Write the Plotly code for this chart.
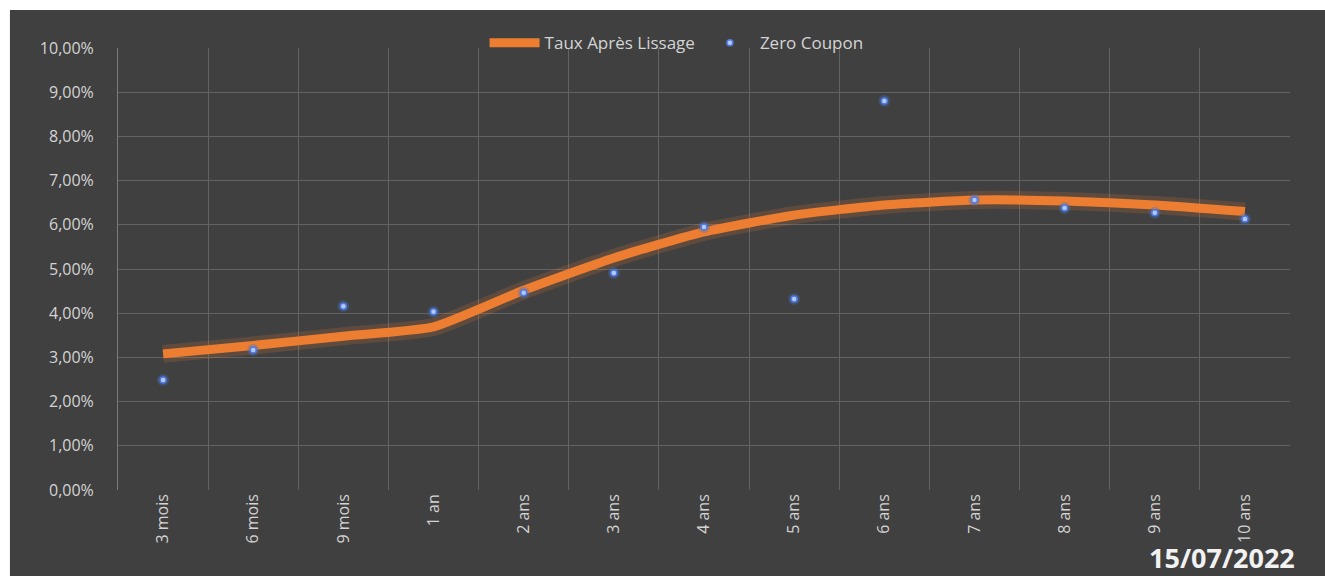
import plotly.graph_objects as go

categories = ["3 mois", "6 mois", "9 mois", "1 an", "2 ans", "3 ans", "4 ans",
              "5 ans", "6 ans", "7 ans", "8 ans", "9 ans", "10 ans"]
taux_lissage = [0.0308, 0.0327, 0.0348, 0.0369, 0.0452, 0.0525, 0.0584,
                0.0622, 0.0645, 0.0656, 0.0654, 0.0645, 0.0630]
zero_coupon = [0.0249, 0.0317, 0.0416, 0.0403, 0.0446, 0.0491, 0.0595,
               0.0432, 0.0880, 0.0656, 0.0638, 0.0627, 0.0613]
y_ticks = [i / 100 for i in range(0, 11)]
date_label = "15/07/2022"

BG = "#404040"
TXT = "#d4d4d4"
GRID = "#636363"

fig = go.Figure()

# glow under the smoothed line
fig.add_trace(go.Scatter(
    x=categories, y=taux_lissage, mode="lines",
    line=dict(color="rgba(237,125,49,0.18)", width=18, shape="spline", smoothing=0.5),
    showlegend=False, hoverinfo="skip"))
fig.add_trace(go.Scatter(
    x=categories, y=taux_lissage, mode="lines", name="Taux Après Lissage",
    line=dict(color="#ED7D31", width=9, shape="spline", smoothing=0.5)))
# glow under the points
fig.add_trace(go.Scatter(
    x=categories, y=zero_coupon, mode="markers",
    marker=dict(size=12, color="rgba(68,114,196,0.35)"),
    showlegend=False, hoverinfo="skip"))
fig.add_trace(go.Scatter(
    x=categories, y=zero_coupon, mode="markers", name="Zero Coupon",
    marker=dict(size=6, color="#b4c8ff", line=dict(width=1.5, color="#4f7be0"))))

fig.update_layout(
    width=1325, height=576,
    margin=dict(l=118, r=35, t=48, b=86),
    paper_bgcolor=BG, plot_bgcolor=BG,
    separators=", ",
    font=dict(family="Open Sans", color=TXT, size=16),
    showlegend=True,
    legend=dict(orientation="h", x=0.4766, xanchor="center", y=1.011, yanchor="middle",
                bgcolor="rgba(0,0,0,0)", font=dict(size=17, color=TXT),
                traceorder="normal", itemwidth=50),
    xaxis=dict(type="category", range=[-0.5, 12.5], tickson="boundaries", tickangle=-90,
               showgrid=True, gridcolor=GRID, gridwidth=1,
               showline=False, zeroline=False, ticks="", ticklen=0,
               tickfont=dict(size=16, color=TXT)),
    yaxis=dict(range=[0, 0.1], tickvals=y_ticks, tickformat=".2%",
               showgrid=True, gridcolor=GRID, gridwidth=1,
               showline=True, linecolor="#7a7a7a", zeroline=False,
               ticks="", ticklabelstandoff=20, tickfont=dict(size=16, color=TXT)),
    shapes=[
        dict(type="rect", xref="paper", yref="paper", x0=-0.2, x1=1.2, y0=1.086, y1=1.3,
             fillcolor="#ffffff", line=dict(width=0), layer="above"),
        dict(type="rect", xref="paper", yref="paper", x0=-0.2, x1=-0.0922, y0=-0.4, y1=1.3,
             fillcolor="#ffffff", line=dict(width=0), layer="above"),
    ],
    annotations=[dict(text="<b>" + date_label + "</b>", xref="paper", yref="paper",
                      x=1.006, y=-0.152, xanchor="right", yanchor="middle",
                      showarrow=False, font=dict(size=27, color="#f2f2f2", family="Open Sans"))],
)

fig.write_html("out.html")
